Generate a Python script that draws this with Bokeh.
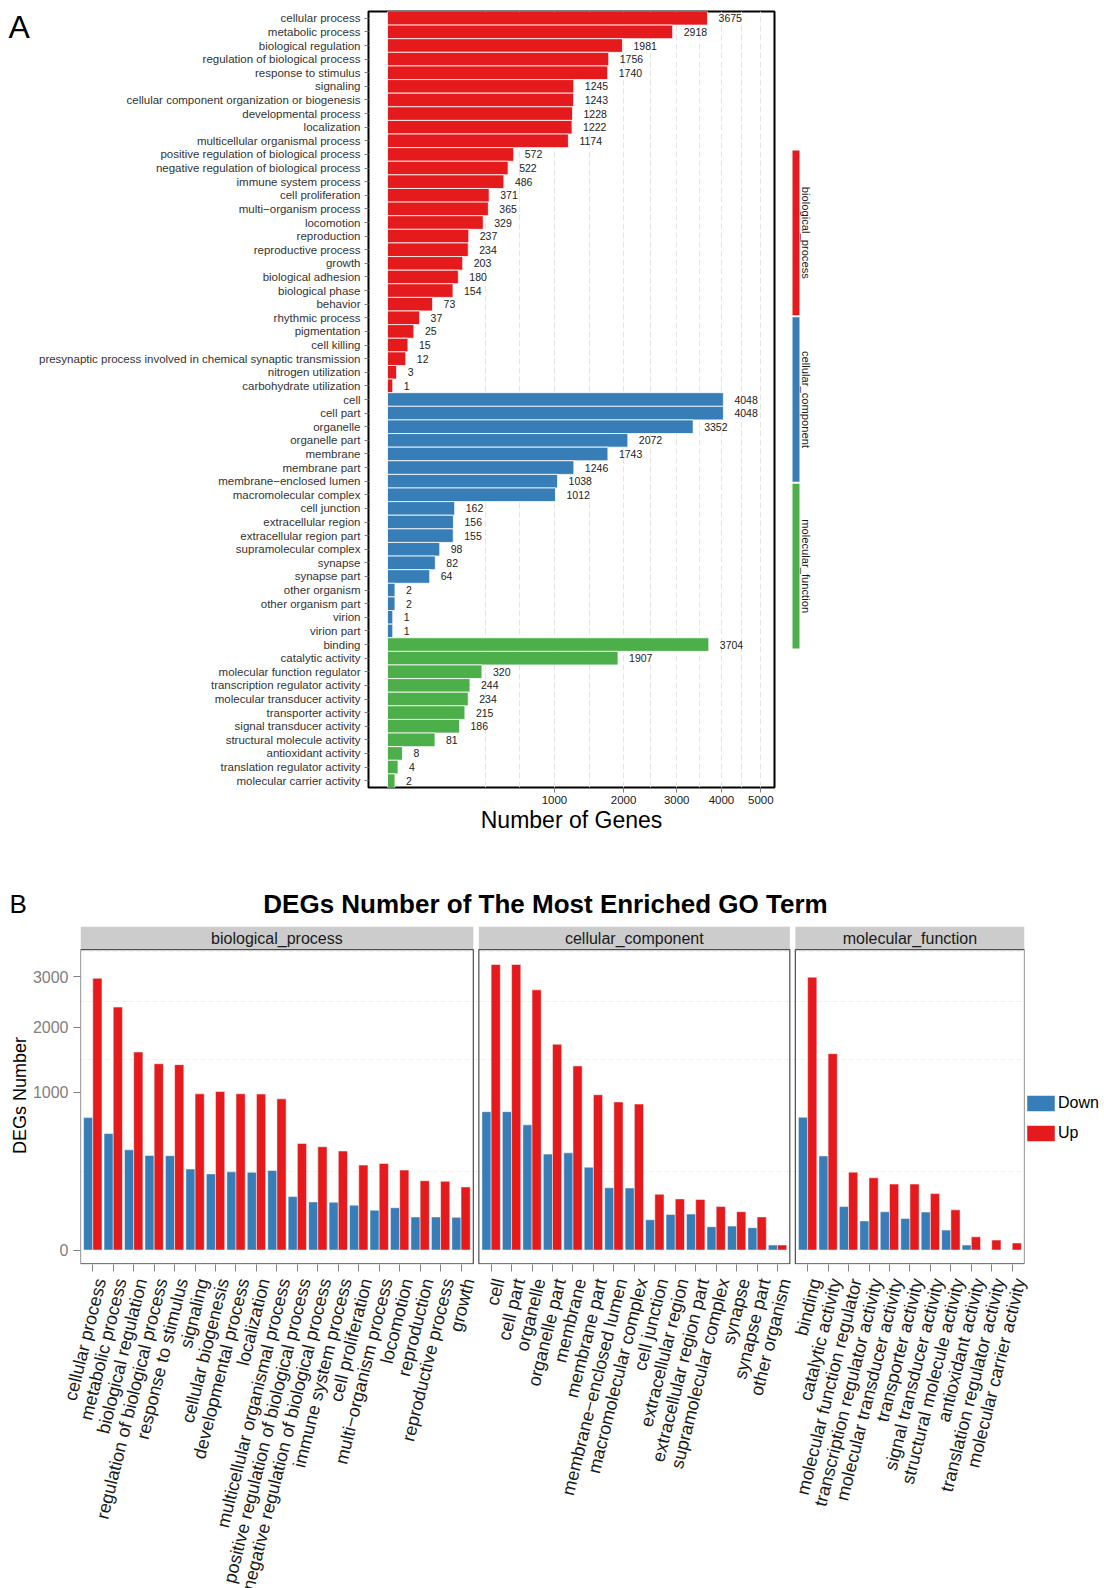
import math
import numpy as np
from bokeh.plotting import figure
from bokeh.layouts import row, column
from bokeh.models import (ColumnDataSource, FactorRange, Range1d, FixedTicker,
                          CustomJSTickFormatter, Grid, Legend, LegendItem)
from bokeh.transform import dodge
from bokeh.embed import file_html
from bokeh.resources import INLINE
from bokeh.core.properties import value

FONT = "Liberation Sans"
RED, BLUE, GREEN = "#E41A1C", "#377EB8", "#4DAF4A"

# ---------------- Panel A data ----------------
groups = ["biological_process", "cellular_component", "molecular_function"]

bp_terms = ["cellular process", "metabolic process", "biological regulation",
            "regulation of biological process", "response to stimulus", "signaling",
            "cellular component organization or biogenesis", "developmental process",
            "localization", "multicellular organismal process",
            "positive regulation of biological process",
            "negative regulation of biological process", "immune system process",
            "cell proliferation", "multi\u2212organism process", "locomotion", "reproduction",
            "reproductive process", "growth", "biological adhesion", "biological phase",
            "behavior", "rhythmic process", "pigmentation", "cell killing",
            "presynaptic process involved in chemical synaptic transmission",
            "nitrogen utilization", "carbohydrate utilization"]
bp_counts = [3675, 2918, 1981, 1756, 1740, 1245, 1243, 1228, 1222, 1174, 572, 522, 486,
             371, 365, 329, 237, 234, 203, 180, 154, 73, 37, 25, 15, 12, 3, 1]

cc_terms = ["cell", "cell part", "organelle", "organelle part", "membrane", "membrane part",
            "membrane\u2212enclosed lumen", "macromolecular complex", "cell junction",
            "extracellular region", "extracellular region part", "supramolecular complex",
            "synapse", "synapse part", "other organism", "other organism part", "virion",
            "virion part"]
cc_counts = [4048, 4048, 3352, 2072, 1743, 1246, 1038, 1012, 162, 156, 155, 98, 82, 64,
             2, 2, 1, 1]

mf_terms = ["binding", "catalytic activity", "molecular function regulator",
            "transcription regulator activity", "molecular transducer activity",
            "transporter activity", "signal transducer activity",
            "structural molecule activity", "antioxidant activity",
            "translation regulator activity", "molecular carrier activity"]
mf_counts = [3704, 1907, 320, 244, 234, 215, 186, 81, 8, 4, 2]

a_ticks = [1000, 2000, 3000, 4000, 5000]

# ---------------- Panel B data ----------------
bp_b_terms = ["cellular process", "metabolic process", "biological regulation",
              "regulation of biological process", "response to stimulus", "signaling",
              "cellular biogenesis", "developmental process", "localization",
              "multicellular organismal process", "positive regulation of biological process",
              "negative regulation of biological process", "immune system process",
              "cell proliferation", "multi\u2212organism process", "locomotion",
              "reproduction", "reproductive process", "growth"]
bp_down = [706, 545, 404, 360, 358, 264, 233, 246, 243, 255, 115, 93, 92, 81, 64, 72, 44, 44, 43]
bp_up = [2969, 2373, 1577, 1396, 1382, 981, 1010, 982, 979, 919, 457, 429, 394, 290, 301,
         257, 193, 190, 160]

cc_b_terms = ["cell", "cell part", "organelle", "organelle part", "membrane", "membrane part",
              "membrane\u2212enclosed lumen", "macromolecular complex", "cell junction",
              "extracellular region", "extracellular region part", "supramolecular complex",
              "synapse", "synapse part", "other organism"]
cc_down = [770, 770, 630, 370, 380, 276, 156, 155, 37, 51, 52, 22, 23, 20, 1]
cc_up = [3278, 3278, 2722, 1702, 1363, 970, 882, 857, 125, 105, 103, 76, 59, 44, 1]

mf_b_terms = list(mf_terms)
mf_down = [709, 356, 76, 34, 59, 40, 58, 16, 1, 0, 0]
mf_up = [2995, 1551, 244, 210, 175, 175, 128, 65, 7, 4, 2]

b_ticks = [0, 1000, 2000, 3000]

SQRT_FMT = "return String(Math.round(tick*tick));"


def minor_positions(ticks_root):
    t = list(ticks_root)
    ext = [t[0] - (t[1] - t[0])] + t + [t[-1] + (t[-1] - t[-2])]
    mids = [(a + b) / 2 for a, b in zip(ext[:-1], ext[1:])]
    return ext, mids


# vertical layout of the top row (frame of panel A)
A_TOP, A_FRAME_H, A_BOTTOM = 11, 776, 60

# ================= Panel A =================
a_terms = bp_terms + cc_terms + mf_terms
a_counts = bp_counts + cc_counts + mf_counts
a_colors = [RED] * len(bp_terms) + [BLUE] * len(cc_terms) + [GREEN] * len(mf_terms)
srcA = ColumnDataSource(dict(term=a_terms, root=np.sqrt(a_counts),
                             label=[str(c) for c in a_counts], color=a_colors))

pA = figure(y_range=FactorRange(factors=a_terms[::-1]), x_range=Range1d(-3.6, 73.3),
            frame_width=406, frame_height=A_FRAME_H, min_border_left=338, min_border_right=9,
            min_border_top=A_TOP, min_border_bottom=A_BOTTOM, output_backend="svg",
            toolbar_location=None)
pA.outline_line_color = "black"
pA.outline_line_width = 2
pA.xgrid.visible = False
pA.ygrid.visible = False

a_roots = [math.sqrt(v) for v in a_ticks]
ext, mids = minor_positions(a_roots)
a_grid = sorted(ext[:-1] + mids[:-1])
pA.add_layout(Grid(dimension=0, ticker=FixedTicker(ticks=a_grid),
                   grid_line_color="#e4e4e4", grid_line_dash="6 3", grid_line_width=1))

pA.hbar(y="term", left=0, right="root", height=1, fill_color="color", line_color="white",
        line_width=0.8, source=srcA)
pA.text(x="root", y="term", text="label", x_offset=11, text_baseline="middle",
        text_align="left", text_font=value(FONT), text_font_size="10.5px",
        text_color="#222222", source=srcA)

pA.yaxis.major_label_text_font = FONT
pA.yaxis.major_label_text_font_size = "11.5px"
pA.yaxis.major_label_text_color = "#333333"
pA.yaxis.major_tick_out = 4
pA.yaxis.major_tick_in = 0
pA.yaxis.major_tick_line_color = "#808080"
pA.yaxis.axis_line_color = None
pA.yaxis.major_label_standoff = 4

pA.xaxis.ticker = FixedTicker(ticks=a_roots)
pA.xaxis.formatter = CustomJSTickFormatter(code=SQRT_FMT)
pA.xaxis.major_tick_out = 5
pA.xaxis.major_tick_in = 0
pA.xaxis.minor_tick_line_color = None
pA.xaxis.major_tick_line_color = "#808080"
pA.xaxis.axis_line_color = None
pA.xaxis.major_label_text_font = FONT
pA.xaxis.major_label_text_font_size = "11.5px"
pA.xaxis.major_label_text_color = "#1a1a1a"
pA.xaxis.major_label_standoff = 3
pA.xaxis.axis_label = "Number of Genes"
pA.xaxis.axis_label_text_font = FONT
pA.xaxis.axis_label_text_font_size = "23px"
pA.xaxis.axis_label_text_font_style = "normal"
pA.xaxis.axis_label_text_color = "black"
pA.xaxis.axis_label_standoff = 0

# panel letter "A" (narrow figure left of panel A, same frame rows)
pL = figure(frame_width=30, frame_height=A_FRAME_H, min_border_left=0, min_border_right=0,
            min_border_top=A_TOP, min_border_bottom=A_BOTTOM, x_range=Range1d(0, 30),
            y_range=Range1d(0, A_FRAME_H), x_axis_location=None, y_axis_location=None,
            output_backend="svg", toolbar_location=None)
pL.outline_line_color = None
pL.grid.visible = False
pL.text(x=[8], y=[A_FRAME_H - 15], text=["A"], text_font=value(FONT),
        text_font_size="32px", text_baseline="alphabetic", text_color="black")

# strip legend of panel A
pS = figure(y_range=FactorRange(factors=groups[::-1], range_padding=0.828,
                                range_padding_units="absolute"),
            x_range=Range1d(-9, 31), frame_width=40, frame_height=A_FRAME_H,
            min_border_left=0, min_border_right=0, min_border_top=A_TOP,
            min_border_bottom=A_BOTTOM, x_axis_location=None, y_axis_location=None,
            output_backend="svg", toolbar_location=None)
pS.outline_line_color = None
pS.grid.visible = False
pS.hbar(y=groups, left=0, right=7, height=0.988, color=[RED, BLUE, GREEN], line_color=None)
pS.text(x=13.5, y=groups, text=groups, angle=-math.pi / 2, text_align="center",
        text_baseline="middle", text_font=value(FONT), text_font_size="11.2px",
        text_color="#1a1a1a")

# ================= Title row of panel B =================
T_H = 79
pT = figure(width=1104, height=T_H, x_range=Range1d(0, 1104), y_range=Range1d(0, T_H),
            x_axis_location=None, y_axis_location=None, min_border=0,
            output_backend="svg", toolbar_location=None)
pT.outline_line_color = None
pT.grid.visible = False
pT.text(x=[9], y=[22.5], text=["B"], text_font=value(FONT), text_font_size="26px",
        text_baseline="alphabetic", text_color="black")
pT.text(x=[545], y=[22.5], text=["DEGs Number of The Most Enriched GO Term"],
        text_font=value(FONT), text_font_size="26px", text_font_style="bold",
        text_align="center", text_baseline="alphabetic", text_color="black")

# ================= Panel B (three facets in one frame) =================
b_terms_by_group = [bp_b_terms, cc_b_terms, mf_b_terms]
b_down_by_group = [bp_down, cc_down, mf_down]
b_up_by_group = [bp_up, cc_up, mf_up]

b_factors = [(g, t) for g, ts in zip(groups, b_terms_by_group) for t in ts]
b_labels = [t for ts in b_terms_by_group for t in ts]
b_down = [v for vs in b_down_by_group for v in vs]
b_up = [v for vs in b_up_by_group for v in vs]

Y_FRAME_LO, Y_PANEL_LO, Y_PANEL_HI, Y_STRIP_HI = -2.9, -2.75, 60.26, 64.88
B_FRAME_W, B_BORDER = 944, 80
B_PAD = 0.1
B_GROUP_PAD = 0.47

xrB = FactorRange(factors=b_factors, factor_padding=0, group_padding=B_GROUP_PAD,
                  range_padding=B_PAD, range_padding_units="absolute")
yrB = Range1d(Y_FRAME_LO, Y_STRIP_HI)

pB = figure(x_range=xrB, y_range=yrB, frame_width=B_FRAME_W, frame_height=338,
            min_border_left=B_BORDER, min_border_right=B_BORDER, min_border_top=0,
            min_border_bottom=12, output_backend="svg", toolbar_location=None)
pB.outline_line_color = None
pB.grid.visible = False

b_roots = [math.sqrt(v) for v in b_ticks]
bext, bmids = minor_positions(b_roots)
pB.add_layout(Grid(dimension=1, ticker=FixedTicker(ticks=bmids),
                   grid_line_color="#f0f0f0", grid_line_dash="5 3", grid_line_width=1))

facet_src = ColumnDataSource(dict(
    first=[(g, ts[0]) for g, ts in zip(groups, b_terms_by_group)],
    last=[(g, ts[-1]) for g, ts in zip(groups, b_terms_by_group)],
    mid=[(g, ts[len(ts) // 2]) for g, ts in zip(groups, b_terms_by_group)],
    name=groups))

pB.quad(left=dodge("first", -0.6, range=xrB), right=dodge("last", 0.6, range=xrB),
        bottom=Y_PANEL_HI, top=Y_STRIP_HI, fill_color="#cccccc", line_color=None,
        source=facet_src)
pB.text(x="mid", y=(Y_PANEL_HI + Y_STRIP_HI) / 2 - 0.1, text="name", text_align="center",
        text_baseline="middle", text_font=value(FONT), text_font_size="16px",
        text_color="#1a1a1a", source=facet_src)

srcB = ColumnDataSource(dict(x=b_factors, label=b_labels, down=np.sqrt(b_down),
                             up=np.sqrt(b_up)))
rd = pB.vbar(x=dodge("x", -0.225, range=xrB), top="down", bottom=0, width=0.45,
             source=srcB, fill_color=BLUE, line_color="white", line_width=0.5)
ru = pB.vbar(x=dodge("x", 0.225, range=xrB), top="up", bottom=0, width=0.45,
             source=srcB, fill_color=RED, line_color="white", line_width=0.5)

pB.quad(left=dodge("first", -0.6, range=xrB), right=dodge("last", 0.6, range=xrB),
        bottom=Y_PANEL_LO, top=Y_PANEL_HI, fill_color=None, line_color="#4d4d4d",
        line_width=1.2, source=facet_src)

ax = pB.xaxis[0]
ax.major_label_orientation = "horizontal"
ax.major_label_text_font_size = "1px"
ax.major_label_text_alpha = 0
ax.group_text_font_size = "1px"
ax.group_text_alpha = 0
ax.major_label_standoff = 0
ax.major_tick_out = 7
ax.major_tick_in = 0
ax.major_tick_line_color = "#808080"
ax.axis_line_color = None
ax.separator_line_color = None

ya = pB.yaxis[0]
ya.ticker = FixedTicker(ticks=b_roots)
ya.formatter = CustomJSTickFormatter(code=SQRT_FMT)
ya.major_tick_out = 7
ya.major_tick_in = 0
ya.minor_tick_line_color = None
ya.major_tick_line_color = "#808080"
ya.axis_line_color = None
ya.major_label_text_font = FONT
ya.major_label_text_font_size = "16px"
ya.major_label_text_color = "#808080"
ya.major_label_standoff = 5
ya.axis_label = "DEGs Number"
ya.axis_label_text_font = FONT
ya.axis_label_text_font_size = "18px"
ya.axis_label_text_font_style = "normal"
ya.axis_label_text_color = "black"
ya.axis_label_standoff = 0

legend = Legend(items=[LegendItem(label="Down", renderers=[rd]),
                       LegendItem(label="Up", renderers=[ru])],
                location=(-1, 121), orientation="vertical", glyph_width=35, glyph_height=20,
                label_height=20, spacing=10, padding=0, margin=0, label_standoff=0,
                border_line_color=None, background_fill_alpha=0,
                label_text_font=FONT, label_text_font_size="16px",
                label_text_color="black")
pB.add_layout(legend, "right")

# rotated category labels under the facets: same factor scale, wider frame so that
# the labels may run past the facet edges (as in the reference)
X_EXTRA = 30
px_per_unit = B_FRAME_W / (len(b_factors) + 2 * B_GROUP_PAD + 2 * B_PAD)
xrX = FactorRange(factors=b_factors, factor_padding=0, group_padding=B_GROUP_PAD,
                  range_padding=B_PAD + X_EXTRA / px_per_unit,
                  range_padding_units="absolute")
pX = figure(x_range=xrX, y_range=Range1d(0, 1), frame_width=B_FRAME_W + 2 * X_EXTRA,
            frame_height=312, min_border_left=B_BORDER - X_EXTRA,
            min_border_right=B_BORDER - X_EXTRA, min_border_top=0, min_border_bottom=0,
            x_axis_location=None, y_axis_location=None, output_backend="svg",
            toolbar_location=None)
pX.outline_line_color = None
pX.grid.visible = False
pX.text(x="x", y=1, text="label", source=srcB, angle=math.radians(76), x_offset=-2,
        y_offset=0, text_align="right", text_baseline="top", text_font=value(FONT),
        text_font_size="18px", text_color="#1a1a1a")

layout = column(row(pL, pA, pS), pT, column(pB, row(pX)))

open("out.html", "w").write(file_html(layout, INLINE))
